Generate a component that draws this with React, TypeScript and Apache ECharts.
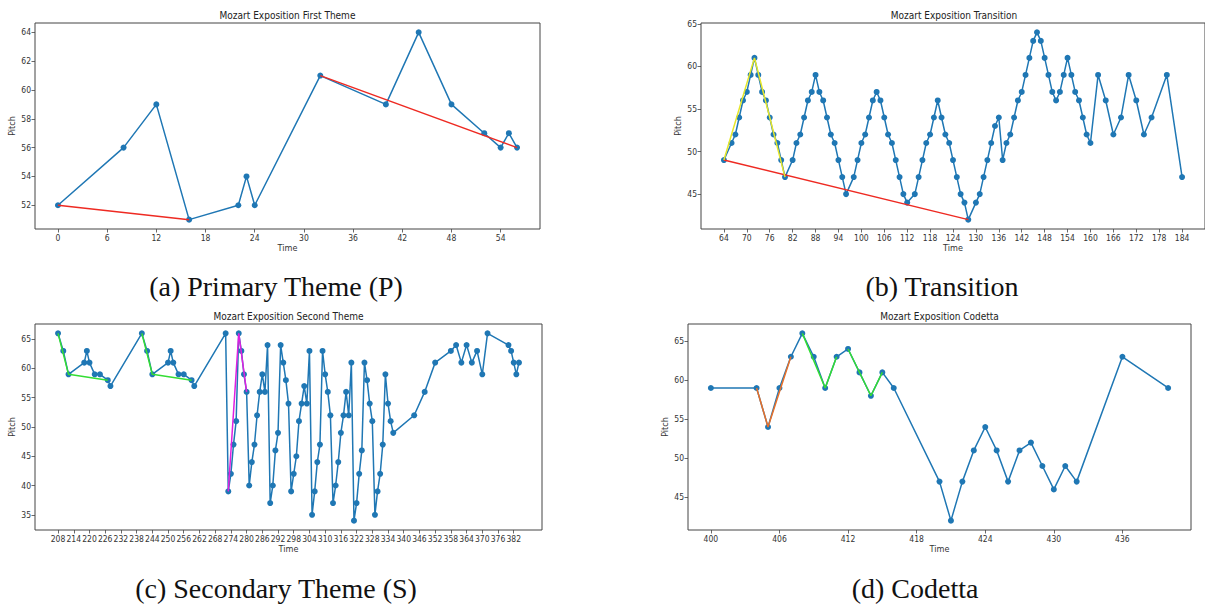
import React, { useEffect, useRef } from "react";
import * as echarts from "echarts";

// ---------- DATA ----------
// (a) Primary theme
const timesA = [0, 8, 12, 16, 22, 23, 24, 32, 40, 44, 48, 52, 54, 55, 56];
const pitchA = [52, 56, 59, 51, 52, 54, 52, 61, 59, 64, 59, 57, 56, 57, 56];
const redA1 = [[0, 52], [16, 51]];
const redA2 = [[32, 61], [56, 56]];
const ticksXA = [0, 6, 12, 18, 24, 30, 36, 42, 48, 54];
const ticksYA = [52, 54, 56, 58, 60, 62, 64];

// (b) Transition
const timesB = [64, 66, 67, 68, 69, 70, 71, 72, 73, 74, 75, 76, 77, 78, 79, 80,
  82, 83, 84, 85, 86, 87, 88, 89, 90, 91, 92, 93, 94, 95, 96,
  98, 99, 100, 101, 102, 103, 104, 105, 106, 107, 108, 109, 110, 111, 112,
  114, 115, 116, 117, 118, 119, 120, 121, 122, 123, 124, 125, 126, 127, 128,
  130, 131, 132, 133, 134, 135, 136, 137, 138, 139, 140, 141, 142, 143, 144, 145, 146,
  147, 148, 149, 150, 151, 152, 153, 154, 155, 156, 157, 158, 159, 160,
  162, 164, 166, 168, 170, 172, 174, 176, 180, 184];
const pitchB = [49, 51, 52, 54, 56, 57, 59, 61, 59, 57, 56, 54, 52, 51, 49, 47,
  49, 51, 52, 54, 56, 57, 59, 57, 56, 54, 52, 51, 49, 47, 45,
  47, 49, 51, 52, 54, 56, 57, 56, 54, 52, 51, 49, 47, 45, 44,
  45, 47, 49, 51, 52, 54, 56, 54, 52, 51, 49, 47, 45, 44, 42,
  44, 45, 47, 49, 51, 53, 54, 49, 51, 52, 54, 56, 57, 59, 61, 63, 64,
  63, 61, 59, 57, 56, 57, 59, 61, 59, 57, 56, 54, 52, 51,
  59, 56, 52, 54, 59, 56, 52, 54, 59, 47];
const redB = [[64, 49], [128, 42]];
const yellowB = [[64, 49], [72, 61], [80, 47]];
const ticksXB = [64, 70, 76, 82, 88, 94, 100, 106, 112, 118, 124, 130, 136, 142, 148, 154, 160, 166, 172, 178, 184];
const ticksYB = [45, 50, 55, 60, 65];

// (c) Secondary theme
const timesC = [208, 210, 212, 218, 219, 220, 222, 224, 227, 228,
  240, 242, 244, 250, 251, 252, 254, 256, 259, 260,
  272, 273, 274, 275, 276, 277, 278, 279, 280, 281, 282, 283, 284, 285, 286, 287, 288,
  289, 290, 291, 292, 293, 294, 295, 296, 297, 298, 299, 300, 301, 302, 303, 304,
  305, 306, 307, 308, 309, 310, 311, 312, 313, 314, 315, 316, 317, 318, 319, 320,
  321, 322, 323, 324, 325, 326, 327, 328, 329, 330, 331, 332, 333, 334, 335, 336,
  344, 348, 352, 358, 360, 362, 364, 366, 368, 370, 372, 380, 381, 382, 383, 384];
const pitchC = [66, 63, 59, 61, 63, 61, 59, 59, 58, 57,
  66, 63, 59, 61, 63, 61, 59, 59, 58, 57,
  66, 39, 42, 47, 51, 66, 63, 59, 56, 40, 44, 47, 52, 56, 59, 56, 64,
  37, 40, 46, 49, 64, 61, 58, 54, 39, 42, 45, 51, 54, 57, 54, 63,
  35, 39, 44, 47, 63, 59, 56, 52, 37, 40, 44, 49, 52, 56, 52, 61,
  34, 37, 42, 46, 61, 58, 54, 51, 35, 39, 42, 47, 59, 54, 51, 49,
  52, 56, 61, 63, 64, 61, 64, 61, 63, 59, 66, 64, 63, 61, 59, 61];
const greenC1 = [[208, 66], [212, 59], [227, 58]];
const greenC2 = [[240, 66], [244, 59], [259, 58]];
const magentaC = [[273, 39], [277, 66], [280, 56]];
const ticksXC = [208, 214, 220, 226, 232, 238, 244, 250, 256, 262, 268, 274, 280, 286, 292, 298,
  304, 310, 316, 322, 328, 334, 340, 346, 352, 358, 364, 370, 376, 382];
const ticksYC = [35, 40, 45, 50, 55, 60, 65];

// (d) Codetta
const timesD = [400, 404, 405, 406, 407, 408, 409, 410, 411, 412, 413, 414, 415, 416,
  420, 421, 422, 423, 424, 425, 426, 427, 428, 429, 430, 431, 432, 436, 440];
const pitchD = [59, 59, 54, 59, 63, 66, 63, 59, 63, 64, 61, 58, 61, 59,
  47, 42, 47, 51, 54, 51, 47, 51, 52, 49, 46, 49, 47, 63, 59];
const orangeD = [[404, 59], [405, 54], [407, 63]];
const greenD1 = [[408, 66], [410, 59], [411, 63]];
const greenD2 = [[412, 64], [414, 58], [415, 61]];
const ticksXD = [400, 406, 412, 418, 424, 430, 436];
const ticksYD = [45, 50, 55, 60, 65];

const titles = [
  "Mozart Exposition First Theme",
  "Mozart Exposition Transition",
  "Mozart Exposition Second Theme",
  "Mozart Exposition Codetta",
];
const captions = ["(a) Primary Theme (P)", "(b) Transition", "(c) Secondary Theme (S)", "(d) Codetta"];

// ---------- STYLE / LAYOUT ----------
const BLUE = "#1f77b4";
const SANS = "'DejaVu Sans Condensed', 'DejaVu Sans', sans-serif";
const SERIF = "'Liberation Serif', 'DejaVu Serif', serif";
const grids = [
  { left: 35, top: 23, width: 505, height: 206 },
  { left: 701, top: 23, width: 506, height: 206 },
  { left: 35, top: 324, width: 507, height: 206 },
  { left: 688, top: 324, width: 503, height: 206 },
];
const captionPos = [
  { x: 276, y: 286 },
  { x: 942, y: 286 },
  { x: 276, y: 588 },
  { x: 915, y: 588 },
];

function mplRange(v: number[]) {
  const mn = Math.min(...v);
  const mx = Math.max(...v);
  const m = (mx - mn) * 0.05;
  return [mn - m, mx + m];
}

function pairs(xs: number[], ys: number[]) {
  return xs.map((x, i) => [x, ys[i]]);
}

export default function App() {
  const ref = useRef<HTMLDivElement>(null);
  useEffect(() => {
    if (!ref.current) return;
    const chart = echarts.init(ref.current, null, { renderer: "svg" });

    const panels = [
      { xs: timesA, ys: pitchA, tx: ticksXA, ty: ticksYA, over: [[redA1, "#ee2a22"], [redA2, "#ee2a22"]] },
      { xs: timesB, ys: pitchB, tx: ticksXB, ty: ticksYB, over: [[redB, "#ee2a22"], [yellowB, "#e6e62a"]] },
      { xs: timesC, ys: pitchC, tx: ticksXC, ty: ticksYC, over: [[greenC1, "#33dd33"], [greenC2, "#33dd33"], [magentaC, "#e020e0"]] },
      { xs: timesD, ys: pitchD, tx: ticksXD, ty: ticksYD, over: [[orangeD, "#e8702a"], [greenD1, "#33dd33"], [greenD2, "#33dd33"]] },
    ];

    const xAxis: any[] = [];
    const yAxis: any[] = [];
    const series: any[] = [];
    const graphic: any[] = [];

    panels.forEach((p, i) => {
      const [x0, x1] = mplRange(p.xs);
      const [y0, y1] = mplRange(p.ys);
      const label = { fontSize: 8.5, color: "#333", fontFamily: SANS };
      xAxis.push({
        type: "value", gridIndex: i, min: x0, max: x1,
        axisLine: { show: false, onZero: false }, splitLine: { show: false },
        axisTick: { show: true, customValues: p.tx, length: 3.5, lineStyle: { color: "#444", width: 0.8 } },
        axisLabel: { ...label, customValues: p.tx, margin: 4 },
        name: "Time", nameLocation: "middle", nameGap: 14,
        nameTextStyle: { fontSize: 9, color: "#333", fontFamily: SANS },
      });
      yAxis.push({
        type: "value", gridIndex: i, min: y0, max: y1,
        axisLine: { show: false, onZero: false }, splitLine: { show: false },
        axisTick: { show: true, customValues: p.ty, length: 3.5, lineStyle: { color: "#444", width: 0.8 } },
        axisLabel: { ...label, customValues: p.ty, margin: 4 },
        name: "Pitch", nameLocation: "middle", nameGap: 19, nameRotate: 90,
        nameTextStyle: { fontSize: 9, color: "#333", fontFamily: SANS },
      });
      series.push({
        type: "line", xAxisIndex: i, yAxisIndex: i,
        data: pairs(p.xs, p.ys),
        symbol: "circle", symbolSize: 6, showSymbol: true,
        lineStyle: { color: BLUE, width: 1.5 },
        itemStyle: { color: BLUE },
        z: 2, silent: true,
      });
      p.over.forEach(([d, c]: any) => {
        series.push({
          type: "line", xAxisIndex: i, yAxisIndex: i, data: d,
          symbol: "none", lineStyle: { color: c, width: 1.5 }, z: 3, silent: true,
        });
      });
      const g = grids[i];
      graphic.push({
        type: "text", x: g.left + g.width / 2, y: g.top - 8,
        style: { text: titles[i], fontSize: 10, fill: "#222", fontFamily: SANS, textAlign: "center", textVerticalAlign: "middle" },
      });
      graphic.push({
        type: "text", x: captionPos[i].x, y: captionPos[i].y,
        style: { text: captions[i], fontSize: 28, fill: "#111", fontFamily: SERIF, textAlign: "center", textVerticalAlign: "middle" },
      });
    });

    chart.setOption({
      animation: false,
      backgroundColor: "#ffffff",
      grid: grids.map((g) => ({ ...g, show: true, borderColor: "#444", borderWidth: 1, containLabel: false })),
      xAxis, yAxis, series, graphic,
    });
    return () => chart.dispose();
  }, []);
  return (
    <div
      ref={ref}
      style={{ position: "absolute", left: 0, top: 0, width: 1205, height: 604, overflow: "hidden" }}
    />
  );
}
